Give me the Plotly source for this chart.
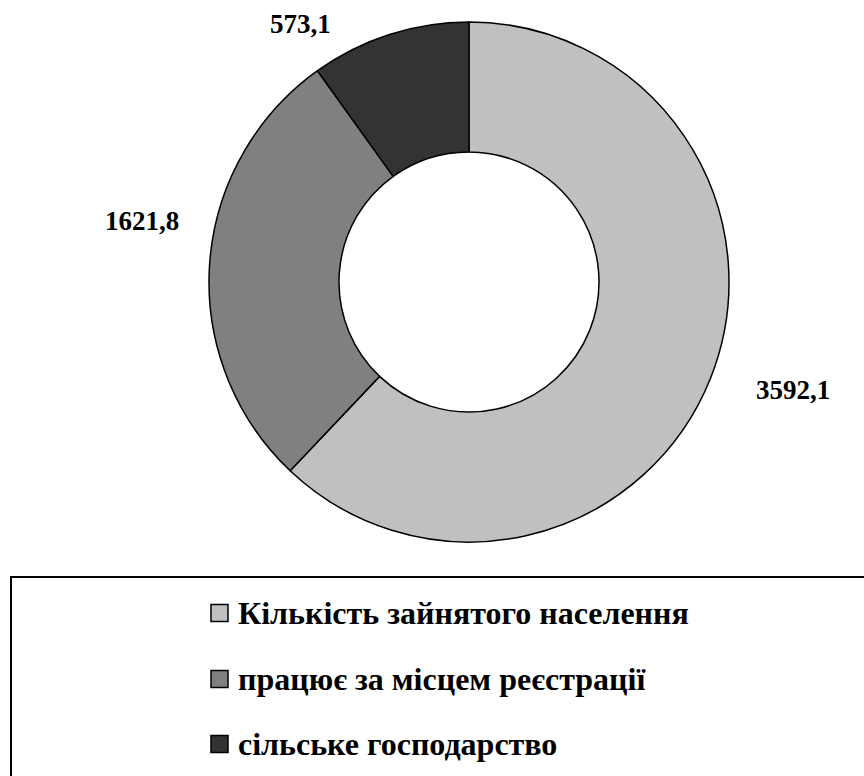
import plotly.graph_objects as go

categories = ["Кількість зайнятого населення", "працює за місцем реєстрації", "сільське господарство"]
values = [3592.1, 1621.8, 573.1]
colors = ["#C0C0C0", "#808080", "#333333"]

W, H = 864, 776
SERIF = "Liberation Serif, Times New Roman, DejaVu Serif, serif"

def px(x):
    return x / W

def py(y):
    return 1 - y / H

fig = go.Figure()
fig.add_trace(go.Pie(
    labels=categories,
    values=values,
    hole=0.5,
    sort=False,
    direction="clockwise",
    rotation=0,
    marker=dict(colors=colors, line=dict(color="black", width=1.5)),
    textinfo="none",
    hoverinfo="label+value",
    showlegend=False,
    domain=dict(x=[px(209), px(729)], y=[py(542), py(22)]),
))

# value labels (outside the ring)
label_pos = [(793, 390), (142, 221), (300, 24)]
annotations = []
for v, (lx, ly) in zip(values, label_pos):
    annotations.append(dict(
        x=px(lx), y=py(ly), xref="paper", yref="paper",
        text="<b>" + f"{v:.1f}".replace(".", ",") + "</b>",
        showarrow=False, xanchor="center", yanchor="middle",
        font=dict(family=SERIF, size=27, color="black"),
    ))

shapes = [dict(
    type="rect", xref="paper", yref="paper",
    x0=px(11), x1=1.05, y0=-0.05, y1=py(577),
    line=dict(color="black", width=2), fillcolor="rgba(0,0,0,0)",
)]

legend_y = [613, 679, 744]
for cat, col, ly in zip(categories, colors, legend_y):
    shapes.append(dict(
        type="rect", xref="paper", yref="paper",
        x0=px(211), x1=px(228), y0=py(ly + 8.5), y1=py(ly - 8.5),
        line=dict(color="black", width=1.5), fillcolor=col,
    ))
    annotations.append(dict(
        x=px(236), y=py(ly), xref="paper", yref="paper",
        text="<b>" + cat + "</b>",
        showarrow=False, xanchor="left", yanchor="middle",
        font=dict(family=SERIF, size=32, color="black"),
    ))

fig.update_layout(
    width=W, height=H,
    margin=dict(l=0, r=0, t=0, b=0),
    paper_bgcolor="white",
    plot_bgcolor="white",
    font=dict(family=SERIF),
    annotations=annotations,
    shapes=shapes,
    showlegend=False,
)

fig.write_html("out.html", config={"displayModeBar": False},
               post_script="document.body.style.margin='0';")
